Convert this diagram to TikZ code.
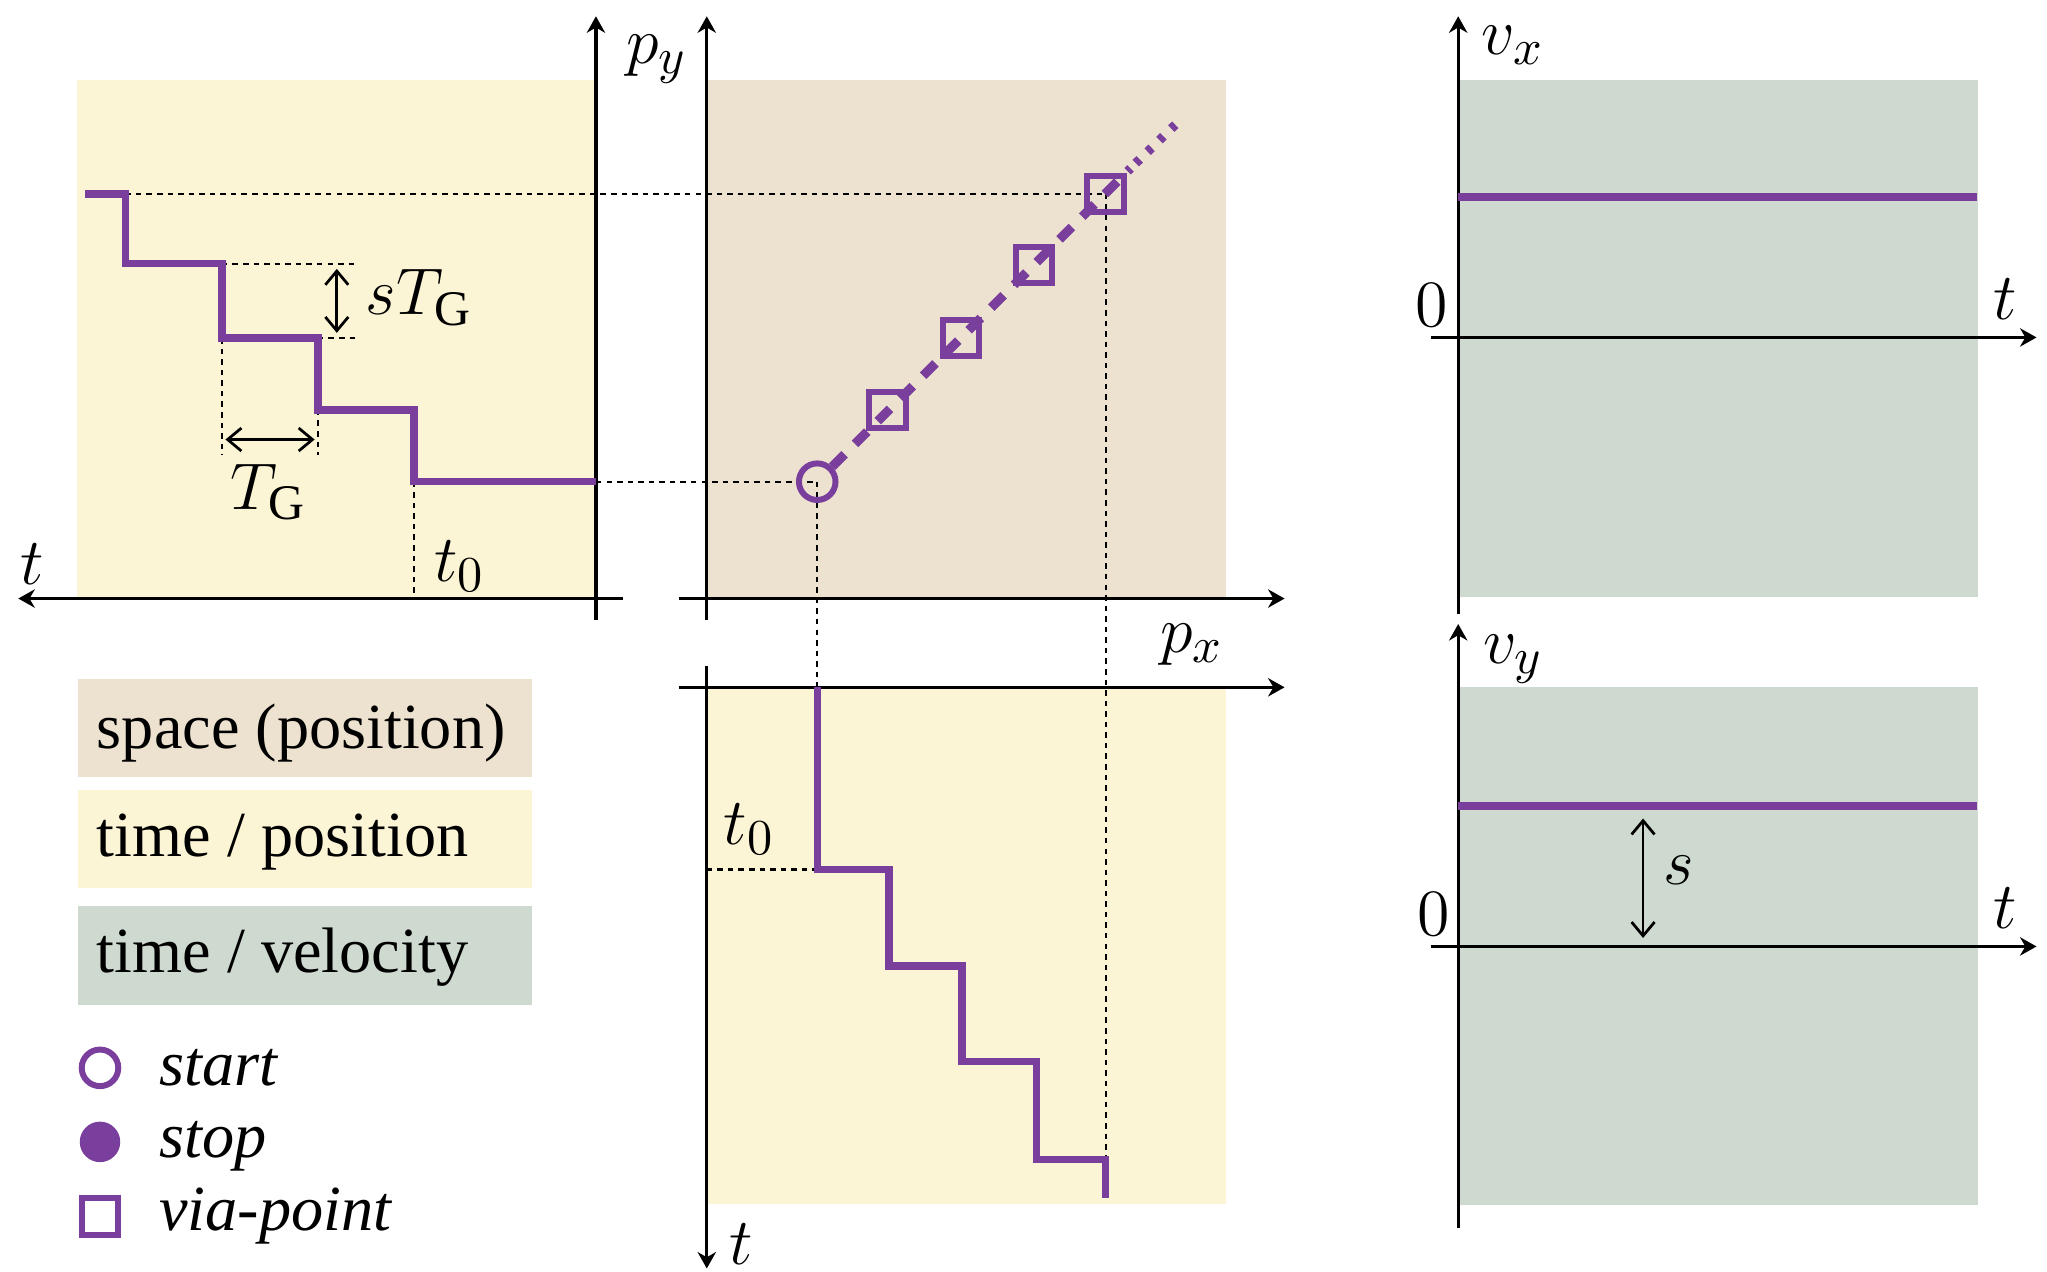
\documentclass[tikz,border=0pt]{standalone}
\usepackage{fontspec}
\setmainfont{Liberation Serif}
\usetikzlibrary{arrows.meta}

\definecolor{trajcol}{HTML}{7A3E9D}
\definecolor{posbg}{HTML}{FCF5D5}
\definecolor{spacebg}{HTML}{ECE2CF}
\definecolor{velbg}{HTML}{CED9CF}

\tikzset{
  axis/.style={line width=0.7pt, -{Stealth[length=3.6pt,width=4pt]}},
  trajline/.style={draw=trajcol, line width=1.6pt},
  guide/.style={line width=0.5pt, dash pattern=on 1.2pt off 1.1pt},
  dimarrow/.style={line width=0.6pt, {Straight Barb[length=3pt,width=5pt]}-{Straight Barb[length=3pt,width=5pt]}},
  mlabel/.style={inner sep=0pt, font=\fontsize{15.5}{17}\selectfont},
  legtext/.style={inner sep=0pt, anchor=base west, font=\fontsize{14}{16}\selectfont},
  viapoint/.style={rectangle, draw=trajcol, line width=1.3pt, minimum size=0.28cm, inner sep=0pt},
  startpoint/.style={circle, draw=trajcol, line width=1.3pt, minimum size=0.28cm, inner sep=0pt},
  stoppoint/.style={circle, fill=trajcol, minimum size=0.31cm, inner sep=0pt},
}

\begin{document}
\begin{tikzpicture}[x=0.01cm, y=-0.01cm]
\useasboundingbox (0,0) rectangle (1568,974);

% panels
\fill[posbg] (59,61) rectangle (456.5,458.5);
\fill[spacebg] (541.4,61) rectangle (939,458.5);
\fill[posbg] (541.4,526.5) rectangle (939,922.5);
\fill[velbg] (1117,61) rectangle (1515,457);
\fill[velbg] (1117,526.5) rectangle (1515,923);

% start and via-points in space
\coordinate (st) at (626,369);
\coordinate (v1) at (680,314);
\coordinate (v2) at (736,259);
\coordinate (v3) at (792,203);
\coordinate (v4) at (847,148.5);

% guides
\draw[guide] (96,148.5) -- (v4);
\draw[guide] (456.5,369) -- (st);
\draw[guide] (st) -- (626,526.5);
\draw[guide] (v4) -- (847,888);
\draw[guide] (170,202) -- (273,202);
\draw[guide] (243.5,259) -- (273,259);
\draw[guide] (170,259) -- (170,348.6);
\draw[guide] (243.5,314) -- (243.5,348.6);
\draw[guide] (317,369) -- (317,455);
\draw[guide] (541.4,666) -- (626,666);

% axes
\draw[axis] (477,458.5) -- (14,458.5);
\draw[axis] (456.5,475) -- (456.5,12.5);
\draw[axis] (541.4,475) -- (541.4,12.5);
\draw[axis] (520,458.5) -- (984,458.5);
\draw[axis] (520,526.5) -- (984,526.5);
\draw[axis] (541.4,510) -- (541.4,971.7);
\draw[axis] (1117,470) -- (1117,12.5);
\draw[axis] (1096,258.5) -- (1560,258.5);
\draw[axis] (1117,941) -- (1117,478);
\draw[axis] (1096,725) -- (1560,725);

% trajectories
\draw[trajline] (65,148.5) -- (96,148.5) -- (96,202) -- (170,202) -- (170,259)
  -- (243.5,259) -- (243.5,314) -- (317,314) -- (317,369) -- (456.5,369);
\draw[trajline] (626,526.5) -- (626,666) -- (681,666) -- (681,740) -- (737,740)
  -- (737,813) -- (794,813) -- (794,888) -- (847,888) -- (847,918);
\draw[trajline] (1117,151) -- (1514,151);
\draw[trajline] (1117,617.5) -- (1514,617.5);

% markers
\node[startpoint] (start) at (st) {};
\node[viapoint] (via1) at (v1) {};
\node[viapoint] (via2) at (v2) {};
\node[viapoint] (via3) at (v3) {};
\node[viapoint] (via4) at (v4) {};
\draw[draw=trajcol, line width=2pt, dash pattern=on 3.8pt off 3.2pt] (start.north east) -- (866,129);
\draw[draw=trajcol, line width=2pt, dash pattern=on 1.2pt off 2.4pt] (870,125) -- (906,90);

% dimensions
\draw[dimarrow] (258,206) -- (258,255);
\draw[dimarrow] (172.7,336.7) -- (241,336.7);
\draw[dimarrow] (1258.6,627) -- (1258.6,718.5);

% labels
\node[mlabel] (lt1) at (25,432) {$t$};
\node[mlabel] (lpy) at (503,45) {$p_y$};
\node[mlabel] (lstg) at (321,228) {$sT_\mathrm{G}$};
\node[mlabel] (ltg) at (206,377) {$T_\mathrm{G}$};
\node[mlabel] (lt01) at (352,434) {$t_0$};
\node[mlabel] (lpx) at (913,494) {$p_x$};
\node[mlabel] (lt02) at (574,635) {$t_0$};
\node[mlabel] (lt2) at (568,953) {$t$};
\node[mlabel] (lvx) at (1159,35) {$v_x$};
\node[mlabel] (lz1) at (1097,234) {$0$};
\node[mlabel] (lt3) at (1536,229) {$t$};
\node[mlabel] (lvy) at (1159,505) {$v_y$};
\node[mlabel] (lz2) at (1098,700) {$0$};
\node[mlabel] (lt4) at (1536,696) {$t$};
\node[mlabel] (ls) at (1286,667) {$s$};

% legend
\fill[spacebg] (60,520) rectangle (407.5,595.5);
\fill[posbg] (60,605) rectangle (407.5,680.5);
\fill[velbg] (60,694) rectangle (407.5,770);
\node[legtext] (kspace) at (73.5,573) {space (position)};
\node[legtext] (ktpos) at (73.5,656) {time / position};
\node[legtext] (ktvel) at (73.5,745) {time / velocity};
\node[startpoint] (kstartmark) at (76.6,818) {};
\node[stoppoint] (kstopmark) at (76.6,874.7) {};
\node[viapoint] (kviamark) at (76.6,932) {};
\node[legtext, font=\fontsize{14}{16}\selectfont\itshape] (kstart) at (121.4,831.6) {start};
\node[legtext, font=\fontsize{14}{16}\selectfont\itshape] (kstop) at (121.4,887) {stop};
\node[legtext, font=\fontsize{14}{16}\selectfont\itshape] (kvia) at (121.4,942.7) {via-point};
\end{tikzpicture}
\end{document}
